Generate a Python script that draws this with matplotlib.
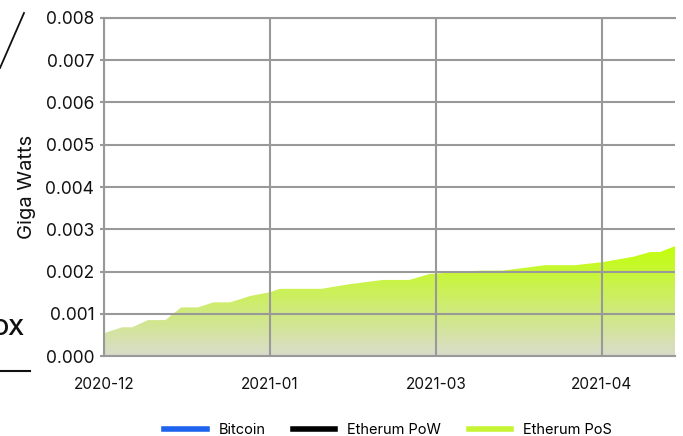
import numpy as np
import matplotlib
matplotlib.use("Agg")
import matplotlib.pyplot as plt
from matplotlib.colors import LinearSegmentedColormap
from matplotlib.lines import Line2D

plt.rcParams['font.family'] = ['Inter', 'DejaVu Sans']

# Data (x in periods; tick labels every 10 periods)
period = [0, 1.1, 1.7, 2.65, 3.7, 4.65, 5.65, 6.6, 7.6, 8.8, 10.0, 10.6, 13.1, 14.8,
          16.8, 18.4, 19.6, 22.7, 24.0, 26.6, 28.4, 30.0, 31.9, 32.9, 33.5, 34.4]
pos_gw = [0.00054, 0.00068, 0.00068, 0.00085, 0.00085, 0.00115, 0.00115, 0.00127,
          0.00127, 0.00142, 0.00151, 0.00159, 0.00159, 0.00170, 0.00180, 0.00180,
          0.00194, 0.00202, 0.00202, 0.00215, 0.00215, 0.00222, 0.00235, 0.00246,
          0.00246, 0.00260]
tick_pos = [0, 10, 20, 30]
tick_labels = ['2020-12', '2021-01', '2021-03', '2021-04']
series_names = ['Bitcoin', 'Etherum PoW', 'Etherum PoS']
series_colors = ['#1d63ed', '#000000', '#c6f432']

W, H = 683, 436
fig = plt.figure(figsize=(W / 100, H / 100), dpi=100)
ax = fig.add_axes([104 / W, (H - 356) / H, (675 - 104) / W, (356 - 18) / H])

xmax = max(period)
ymax_data = max(pos_gw)
poly = ax.fill_between(period, 0, pos_gw, color='none', lw=0)
cmap = LinearSegmentedColormap.from_list('g', ['#d9dccc', '#c2ff08'])
grad = np.linspace(0, 1, 256).reshape(-1, 1)
im = ax.imshow(grad, cmap=cmap, origin='lower', aspect='auto',
               extent=[0, xmax, 0, ymax_data], zorder=1)
im.set_clip_path(poly.get_paths()[0], transform=ax.transData)

ax.set_xlim(0, xmax)
ax.set_ylim(0, 0.008)
ax.set_yticks(np.arange(0, 0.0081, 0.001))
ax.set_yticklabels([f'{v:.3f}' for v in np.arange(0, 0.0081, 0.001)])
ax.set_xticks(tick_pos)
ax.set_xticklabels(tick_labels)

gc = '#999999'
ax.grid(True, color=gc, lw=1.5, zorder=2)
ax.set_axisbelow(False)
for s in ['left', 'bottom', 'top']:
    ax.spines[s].set_color(gc)
    ax.spines[s].set_linewidth(1.5)
ax.spines['right'].set_visible(False)
ax.tick_params(axis='y', colors=gc, length=3, width=1.5, pad=4, labelcolor='#111111', labelsize=12.5)
ax.tick_params(axis='x', length=0, pad=15, labelcolor='#111111', labelsize=11)
ax.set_ylabel('Giga Watts', fontsize=14.5, color='#111111', labelpad=7)

# legend
handles = [Line2D([], [], color=c, lw=4) for c in series_colors]
fig.legend(handles, series_names, loc='center', bbox_to_anchor=(388 / W, 1 - 430 / H),
           ncol=3, frameon=False, fontsize=10.5, handlelength=2.9, handletextpad=0.8,
           columnspacing=1.9)

# page fragments at left edge
fig.add_artist(Line2D([0 / W, 24 / W], [1 - 68 / H, 1 - 13 / H], color='#111111', lw=1.3))
fig.add_artist(Line2D([0 / W, 30 / W], [1 - 370.5 / H, 1 - 370.5 / H], color='#111111', lw=1.5))
fig.text(25 / W, 1 - 335 / H, 'OX', ha='right', va='baseline', fontsize=16,
         fontweight='semibold', color='#111111')

fig.savefig('out.png', dpi=100)
